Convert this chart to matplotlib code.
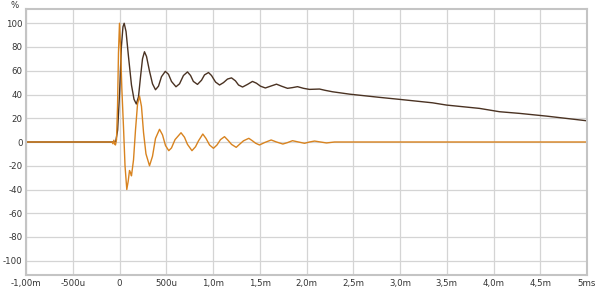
import matplotlib
matplotlib.use("Agg")
import matplotlib.pyplot as plt
import numpy as np

# time in ms, values in %
t_dark = [-1.0, -0.06, -0.04, -0.02, 0.0, 0.02, 0.037, 0.05, 0.07, 0.096, 0.128, 0.155,
          0.18, 0.203, 0.225, 0.246, 0.267, 0.289, 0.32, 0.353, 0.385, 0.417, 0.449,
          0.49, 0.524, 0.556, 0.604, 0.642, 0.684, 0.727, 0.76, 0.79, 0.834, 0.877,
          0.909, 0.952, 0.984, 1.027, 1.07, 1.112, 1.155, 1.198, 1.24, 1.273, 1.316,
          1.369, 1.422, 1.465, 1.508, 1.56, 1.615, 1.679, 1.733, 1.797, 1.85, 1.904,
          1.968, 2.032, 2.139, 2.2, 2.278, 2.46, 2.78, 2.995, 3.348, 3.497, 3.85,
          4.064, 4.278, 4.567, 4.995]
v_dark = [0, 0, 0.5, 10, 40, 80, 97, 100, 93, 72, 48, 36,
          32, 38, 55, 70, 76, 72, 60, 49, 44, 47, 55,
          59.5, 57, 51, 46.5, 49, 56, 59, 56, 51, 48.5, 52,
          56.5, 58.5, 56, 50.5, 48, 50, 53, 54, 51.5, 48, 46.3,
          48.5, 51, 49.5, 47, 45.5, 47, 48.7, 47, 45.2, 45.8, 46.6,
          45.2, 44.3, 44.6, 43.5, 42.3, 40.3, 37.6, 35.9, 33.0, 31.1, 28.3,
          25.5, 24.1, 21.8, 17.9]

t_orange = [-1.0, -0.08, -0.07, -0.06, -0.05, -0.043, -0.032, -0.021, -0.011, 0.0,
            0.011, 0.025, 0.043, 0.059, 0.078, 0.093, 0.107, 0.118, 0.128, 0.15,
            0.171, 0.193, 0.214, 0.235, 0.257, 0.283, 0.321, 0.353, 0.385, 0.428,
            0.46, 0.492, 0.527, 0.556, 0.594, 0.658, 0.695, 0.727, 0.775, 0.813,
            0.845, 0.891, 0.925, 0.963, 1.005, 1.043, 1.08, 1.123, 1.16, 1.198,
            1.248, 1.283, 1.326, 1.383, 1.422, 1.455, 1.497, 1.551, 1.622, 1.679,
            1.747, 1.797, 1.85, 1.914, 1.979, 2.032, 2.086, 2.15, 2.214, 2.3, 5.0]
v_orange = [0, 0, -1.5, 1.5, -2, -2.5, 2, 30, 75, 100,
            80, 45, 12, -20, -40, -33, -24, -26, -28.5, -15,
            10, 32, 38.7, 30, 8, -10, -20, -12, 3, 10.7,
            6, -3, -7.3, -5, 2, 7.8, 4, -2, -7.3, -4,
            1, 6.7, 3, -2.5, -5.3, -2.5, 2, 4.5, 1.5, -2,
            -4.5, -2, 1, 3.1, 1, -1, -2.5, -0.5, 1.7, 0,
            -1.7, -0.5, 1.1, 0, -1.1, 0, 0.8, 0, -0.8, 0, 0]

xticks = [-1.0, -0.5, 0, 0.5, 1.0, 1.5, 2.0, 2.5, 3.0, 3.5, 4.0, 4.5, 5.0]
xlabels = ["-1,00m", "-500u", "0", "500u", "1,0m", "1,5m", "2,0m", "2,5m",
           "3,0m", "3,5m", "4,0m", "4,5m", "5ms"]
yticks = [-100, -80, -60, -40, -20, 0, 20, 40, 60, 80, 100]

plt.rcParams["axes.unicode_minus"] = False

fig = plt.figure(figsize=(6, 2.87), dpi=100)
ax = fig.add_axes([26/600, 12/287, 561/600, 266/287])
ax.plot(t_dark, v_dark, color="#4a3222", linewidth=1.0)
ax.plot(t_orange, v_orange, color="#d8831f", linewidth=1.0)
ax.set_xlim(-1.0, 5.0)
ax.set_ylim(-112, 112)
ax.set_xticks(xticks)
ax.set_xticklabels(xlabels)
ax.set_yticks(yticks)
ax.grid(color="#d4d4d4", linewidth=0.9)
ax.set_axisbelow(True)
ax.tick_params(length=0, labelsize=6.2, labelcolor="#333333")
ax.tick_params(axis="y", pad=2.5)
ax.tick_params(axis="x", pad=3)
for s in ax.spines.values():
  s.set_color("#c4c4c4")
  s.set_linewidth(1.5)
fig.text(15/600, 1 - 5/287, "%", fontsize=6.2, color="#333333", ha="center", va="center")
fig.savefig("out.png", dpi=100)
